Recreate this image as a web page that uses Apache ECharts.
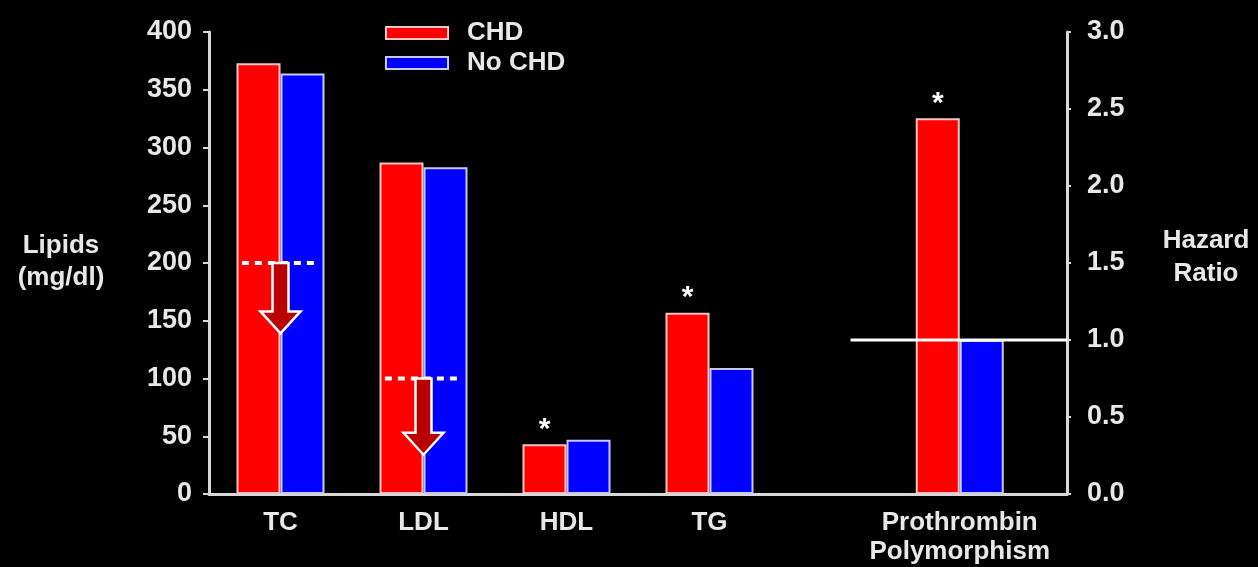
<!DOCTYPE html>
<html>
<head>
<meta charset="utf-8">
<style>
  html, body { margin: 0; padding: 0; background: #000; }
  #chart { width: 1258px; height: 567px; }
</style>
<script src="https://cdn.jsdelivr.net/npm/echarts@6/dist/echarts.min.js"></script>
</head>
<body>
<div id="chart"></div>
<script>
// Lipid panel (left axis, mg/dl)
const categories = ['TC', 'LDL', 'HDL', 'TG'];
const chdLipids = [373, 287, 43, 157];
const noChdLipids = [364, 283, 47, 109];
const chdLipidSignificant = [false, false, true, true];

// Treatment goals drawn as dotted lines with a downward arrow (TC, LDL)
const goalCategories = ['TC', 'LDL'];
const goalValues = [200, 100];
const goalArrowTips = [139, 34];

// Hazard ratio panel (right axis)
const hazardCategory = 'Prothrombin\nPolymorphism';
const chdHazard = 2.44;
const noChdHazard = 1.0;
const chdHazardSignificant = true;
const referenceRatio = 1.0;

// Axis scales
const lipidMax = 400, lipidStep = 50;
const hazardMax = 3.0, hazardStep = 0.5;

const FONT = '"Liberation Sans", Arial, sans-serif';
const TEXT = '#e8e8e8';
const AXIS = '#d8d8d8';
const RED = '#ff0000', RED_EDGE = '#ffc4c4';
const BLUE = '#0000ff', BLUE_EDGE = '#c8c8ff';

// two empty slots leave room for the hazard-ratio group
const lipidAxisData = categories.concat(['', '']);
const hazardAxisData = ['', '', '', hazardCategory];
const hazardIndex = hazardAxisData.length - 1;

const starLabel = {
  show: true, position: 'top', distance: 0, formatter: '*',
  color: '#ffffff', fontFamily: FONT, fontWeight: 'bold', fontSize: 30, lineHeight: 30
};
const withStars = (vals, flags) => vals.map((v, i) => flags[i] ? { value: v, label: starLabel } : v);

const hazardChd = hazardAxisData.map((_, i) => i === hazardIndex
  ? (chdHazardSignificant ? { value: chdHazard, label: starLabel } : chdHazard) : null);
const hazardNoChd = hazardAxisData.map((_, i) => i === hazardIndex ? noChdHazard : null);

const goalData = goalCategories.map((c, i) => [categories.indexOf(c), goalValues[i], goalArrowTips[i]]);

const xLabel = {
  color: TEXT, fontFamily: FONT, fontWeight: 'bold', fontSize: 26, lineHeight: 29,
  margin: 14, interval: 0
};

const chart = echarts.init(document.getElementById('chart'), null, { renderer: 'canvas' });
chart.setOption({
  backgroundColor: '#000000',
  animation: false,
  grid: { left: 209, right: 191, top: 32, bottom: 73, containLabel: false },
  legend: {
    orient: 'vertical', left: 380, top: 15, itemWidth: 62, itemHeight: 12, itemGap: 4,
    icon: 'rect', selectedMode: false,
    data: ['CHD', 'No CHD'],
    textStyle: {
      color: TEXT, fontFamily: FONT, fontWeight: 'bold', fontSize: 26, lineHeight: 26,
      padding: [0, 0, 0, 14]
    }
  },
  xAxis: [
    {
      type: 'category', data: lipidAxisData, position: 'bottom',
      axisLine: { show: true, lineStyle: { color: AXIS, width: 3 } },
      axisTick: { show: false }, axisLabel: xLabel, splitLine: { show: false }
    },
    {
      type: 'category', data: hazardAxisData, position: 'bottom',
      axisLine: { show: false }, axisTick: { show: false },
      axisLabel: xLabel, splitLine: { show: false }
    }
  ],
  yAxis: [
    {
      type: 'value', min: 0, max: lipidMax, interval: lipidStep, position: 'left',
      axisLine: { show: true, lineStyle: { color: AXIS, width: 3 } },
      axisTick: { show: true, length: 6, lineStyle: { color: AXIS, width: 2 } },
      axisLabel: { color: TEXT, fontFamily: FONT, fontWeight: 'bold', fontSize: 27, margin: 17 },
      splitLine: { show: false }
    },
    {
      type: 'value', min: 0, max: hazardMax, interval: hazardStep, position: 'right',
      axisLine: { show: true, lineStyle: { color: AXIS, width: 3 } },
      axisTick: { show: true, length: 4, lineStyle: { color: AXIS, width: 2 } },
      axisLabel: {
        color: TEXT, fontFamily: FONT, fontWeight: 'bold', fontSize: 27, margin: 20,
        formatter: v => v.toFixed(1)
      },
      splitLine: { show: false }
    }
  ],
  graphic: [
    {
      type: 'text', x: 61, y: 262, z: 10,
      style: {
        text: 'Lipids\n(mg/dl)', fill: TEXT, font: 'bold 26px ' + FONT,
        align: 'center', verticalAlign: 'middle', lineHeight: 32
      }
    },
    {
      type: 'text', x: 1206, y: 257, z: 10,
      style: {
        text: 'Hazard\nRatio', fill: TEXT, font: 'bold 26px ' + FONT,
        align: 'center', verticalAlign: 'middle', lineHeight: 33
      }
    }
  ],
  series: [
    {
      name: 'CHD', type: 'bar', xAxisIndex: 0, yAxisIndex: 0,
      barWidth: 44, barGap: '0%',
      itemStyle: { color: RED, borderColor: RED_EDGE, borderWidth: 2 },
      data: withStars(chdLipids, chdLipidSignificant)
    },
    {
      name: 'No CHD', type: 'bar', xAxisIndex: 0, yAxisIndex: 0,
      barWidth: 44, barGap: '0%',
      itemStyle: { color: BLUE, borderColor: BLUE_EDGE, borderWidth: 2 },
      data: noChdLipids
    },
    {
      name: 'CHD', type: 'bar', xAxisIndex: 1, yAxisIndex: 1,
      barWidth: 44, barGap: '0%',
      itemStyle: { color: RED, borderColor: RED_EDGE, borderWidth: 2 },
      data: hazardChd
    },
    {
      name: 'No CHD', type: 'bar', xAxisIndex: 1, yAxisIndex: 1,
      barWidth: 44, barGap: '0%',
      itemStyle: { color: BLUE, borderColor: BLUE_EDGE, borderWidth: 2 },
      data: hazardNoChd
    },
    {
      // goal line + downward arrow
      type: 'custom', xAxisIndex: 0, yAxisIndex: 0, z: 5, silent: true,
      data: goalData,
      renderItem: function (params, api) {
        const idx = api.value(0);
        const top = api.coord([idx, api.value(1)]);
        const tip = api.coord([idx, api.value(2)]);
        const band = api.size([1, 0])[0];
        const half = band * 0.27;
        const cx = top[0];
        const sw = 8, hw = 20, hl = 22;
        const headY = tip[1] - hl;
        return {
          type: 'group',
          children: [
            {
              type: 'line',
              shape: { x1: cx - half, y1: top[1], x2: cx + half, y2: top[1] },
              style: { stroke: '#ffffff', lineWidth: 4, lineDash: [7, 6] }
            },
            {
              type: 'polygon',
              shape: {
                points: [
                  [cx - sw, top[1]], [cx + sw, top[1]], [cx + sw, headY],
                  [cx + hw, headY], [cx, tip[1]], [cx - hw, headY], [cx - sw, headY]
                ]
              },
              style: { fill: '#b80000', stroke: '#ffffff', lineWidth: 2.5 }
            }
          ]
        };
      }
    },
    {
      // reference hazard ratio line
      type: 'custom', xAxisIndex: 1, yAxisIndex: 1, z: 6, silent: true,
      data: [[hazardIndex, referenceRatio]],
      renderItem: function (params, api) {
        const p = api.coord([api.value(0), api.value(1)]);
        const band = api.size([1, 0])[0];
        return {
          type: 'line',
          shape: { x1: p[0] - band / 2 - 2, y1: p[1], x2: p[0] + band / 2, y2: p[1] },
          style: { stroke: '#ffffff', lineWidth: 3 }
        };
      }
    }
  ]
});
</script>
</body>
</html>
